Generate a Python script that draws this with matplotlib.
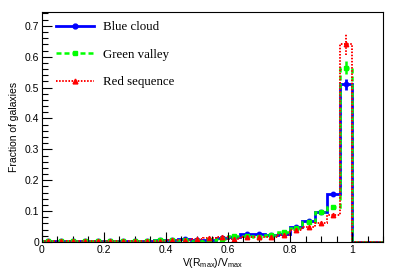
import numpy as np
import matplotlib
matplotlib.use('Agg')
import matplotlib.pyplot as plt
from matplotlib.ticker import MultipleLocator

plt.rcParams['font.family'] = ['Liberation Sans', 'DejaVu Sans']
plt.rcParams['mathtext.default'] = 'regular'

# V(Rmax)/Vmax histogram, bins of 0.04 from 0 to 1.12
edges = np.round(np.arange(0, 1.1201, 0.04), 2)
blue_cloud = [0.002, 0.002, 0.002, 0.002, 0.002, 0.002, 0.003, 0.003, 0.004, 0.005,
              0.007, 0.009, 0.008, 0.008, 0.012, 0.015, 0.026, 0.025, 0.023, 0.026,
              0.050, 0.068, 0.097, 0.155, 0.510, 0.0, 0.0, 0.0]
green_valley = [0.002, 0.003, 0.002, 0.002, 0.003, 0.002, 0.003, 0.004, 0.004, 0.005,
                0.006, 0.005, 0.004, 0.007, 0.011, 0.020, 0.020, 0.015, 0.023, 0.033,
                0.045, 0.065, 0.097, 0.113, 0.565, 0.0, 0.0, 0.0]
red_sequence = [0.002, 0.002, 0.002, 0.002, 0.002, 0.003, 0.002, 0.003, 0.004, 0.004,
                0.006, 0.008, 0.010, 0.012, 0.015, 0.010, 0.015, 0.017, 0.017, 0.023,
                0.039, 0.049, 0.062, 0.087, 0.640, 0.0, 0.0, 0.0]
# errors on the peak bin (0.96-1.0)
peak_err = {'Blue cloud': 0.017, 'Green valley': 0.022, 'Red sequence': 0.035}

series = [
    ('Blue cloud', blue_cloud, '#0000ff', '-', 'o', 2.0),
    ('Green valley', green_valley, '#00ff00', (0, (2, 1.2)), 's', 1.8),
    ('Red sequence', red_sequence, '#ff0000', (0, (0.8, 0.8)), '^', 1.4),
]

fig = plt.figure(figsize=(3.99, 2.71), dpi=100)
ax = fig.add_axes([0.105, 0.107, 0.855, 0.849])

centers = (edges[:-1] + edges[1:]) / 2
n_filled = 25
for label, vals, color, ls, mk, lw in series:
    vals = np.array(vals)
    ax.stairs(vals, edges, color=color, linestyle=ls, linewidth=lw, baseline=0)
    ax.plot(centers[:n_filled], vals[:n_filled], linestyle='none', marker=mk,
            color=color, markersize=3.2)
    eb = ax.errorbar([centers[n_filled - 1]], [vals[n_filled - 1]],
                     yerr=[peak_err[label]], fmt='none', ecolor=color,
                     elinewidth=lw, capsize=0)
    eb[2][0].set_linestyle(ls)
    ax.plot([], [], color=color, linestyle=ls, linewidth=lw, marker=mk,
            markersize=3.5, label=label)

ax.set_xlim(0, 1.1)
ax.set_ylim(0, 0.745)
ax.xaxis.set_major_locator(MultipleLocator(0.2))
ax.xaxis.set_minor_locator(MultipleLocator(0.05))
ax.yaxis.set_major_locator(MultipleLocator(0.1))
ax.yaxis.set_minor_locator(MultipleLocator(0.02))
ax.xaxis.set_major_formatter(plt.FuncFormatter(lambda v, p: '%g' % round(v, 2)))
ax.yaxis.set_major_formatter(plt.FuncFormatter(lambda v, p: '%g' % round(v, 2)))
ax.tick_params(which='both', direction='in', top=False, right=False, labelsize=7.5, pad=2)
ax.tick_params(which='major', length=7, width=0.8)
ax.tick_params(which='minor', length=4, width=0.8)

ax.set_xlabel(r'V(R$_{max}$)/V$_{max}$', fontsize=7.5, labelpad=1)
ax.set_ylabel('Fraction of galaxies', fontsize=7.5, labelpad=4)

leg = ax.legend(loc='upper left', bbox_to_anchor=(0.008, 1.01), frameon=False,
                handlelength=2.9, labelspacing=1.2, handletextpad=0.7,
                prop={'family': 'Liberation Serif', 'size': 9.3})

fig.savefig('out.png', dpi=100)
